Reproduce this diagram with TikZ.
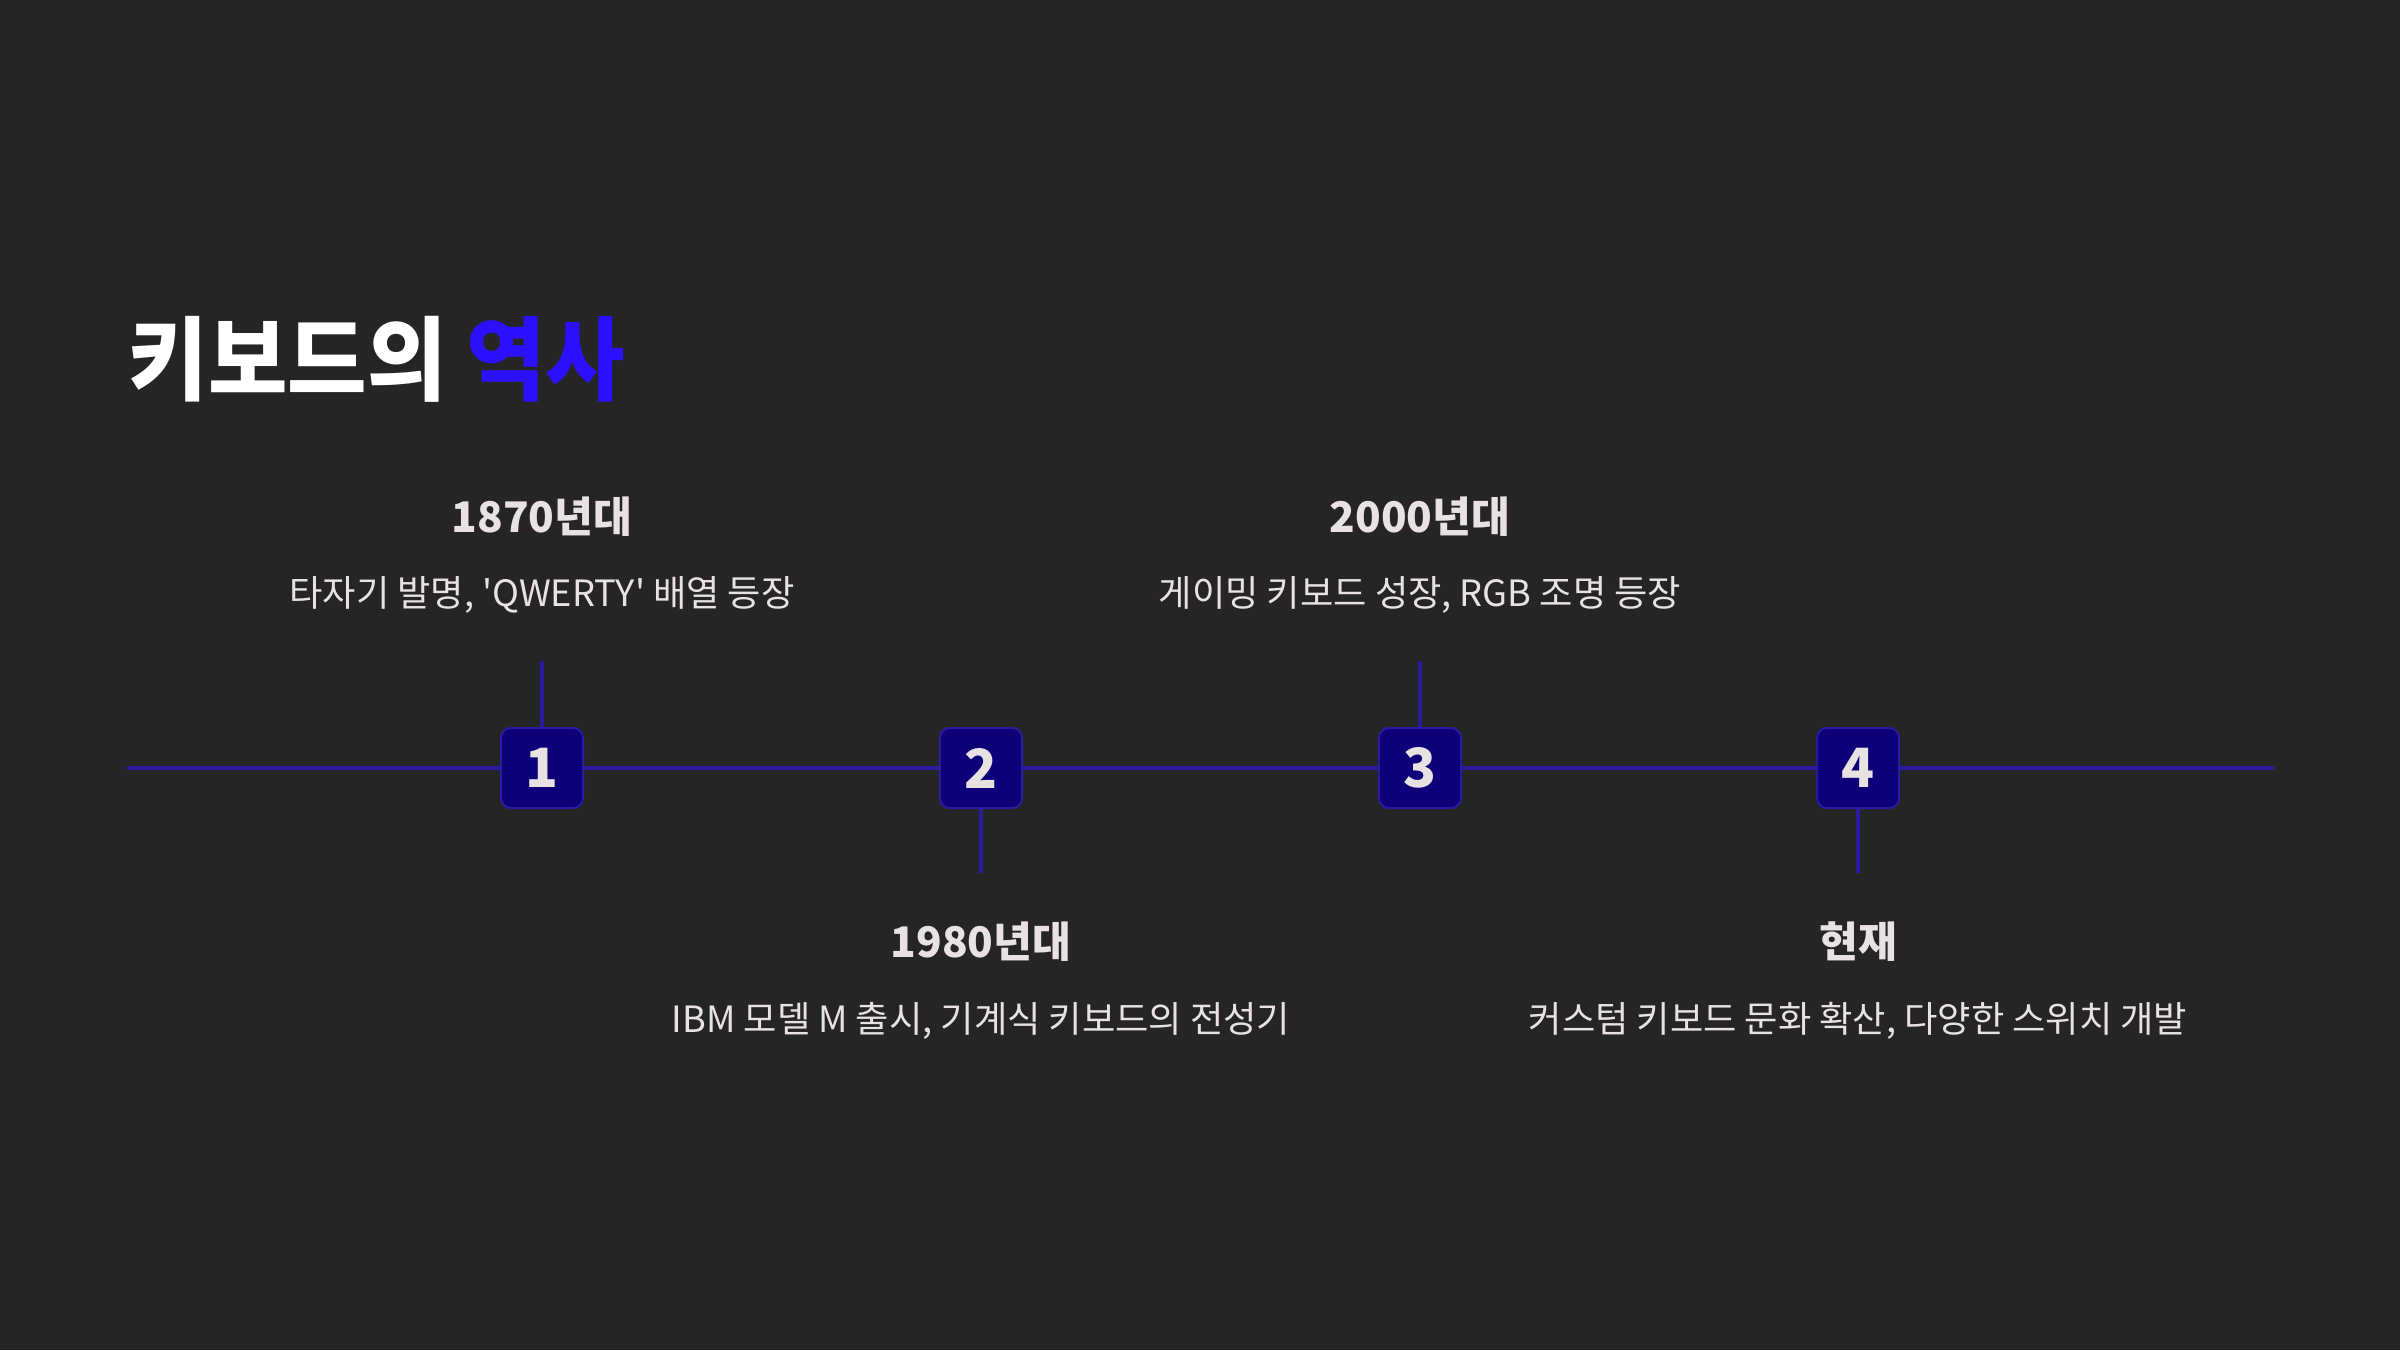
\documentclass[tikz,border=0pt]{standalone}
\usepackage{fontspec}
\setmainfont{Noto Sans CJK KR}[Ligatures=TeXOff]
\newfontfamily\titlefont{Noto Sans CJK KR}[FakeStretch=0.945]
\definecolor{bgcol}{HTML}{262526}
\definecolor{linecol}{HTML}{2C1AA0}
\definecolor{boxcol}{HTML}{0E0078}
\definecolor{accent}{HTML}{2A10FF}
\definecolor{txtcol}{HTML}{E8E2E2}
\tikzset{
  numbox/.style={draw=linecol, line width=0.02cm, fill=boxcol, rounded corners=0.1cm, minimum width=0.82cm, minimum height=0.8cm, inner sep=0pt, text=txtcol, font=\fontsize{15.4}{18}\selectfont\bfseries},
  yearlabel/.style={anchor=base, inner sep=0pt, text=txtcol, font=\fontsize{12}{15}\selectfont\bfseries},
  desclabel/.style={anchor=base, inner sep=0pt, text=txtcol, font=\fontsize{10.3}{13}\selectfont},
  tick/.style={draw=linecol, line width=0.04cm}
}
\begin{document}
\begin{tikzpicture}[x=0.01cm,y=-0.01cm]
\fill[bgcol] (0,0) rectangle (2400,1350);
% title
\node[anchor=base west, inner sep=0pt, text=white, font=\titlefont\fontsize{26}{31}\selectfont\bfseries] (title) at (128,393) {키보드의 \textcolor{accent}{역사}};
% axis
\coordinate (lstart) at (127,768);
\coordinate (lend) at (2274,768);
\draw[tick] (lstart) -- (lend);
\node[numbox] (n1) at (542,768) {1};
\node[numbox] (n2) at (981,768) {2};
\node[numbox] (n3) at (1420,768) {3};
\node[numbox] (n4) at (1858,768) {4};
\coordinate (t1) at (542,661);
\coordinate (t2) at (981,873);
\coordinate (t3) at (1420,661);
\coordinate (t4) at (1858,873);
\draw[tick] (n1.north) -- (t1);
\draw[tick] (n2.south) -- (t2);
\draw[tick] (n3.north) -- (t3);
\draw[tick] (n4.south) -- (t4);
% labels
\node[yearlabel] (y1) at (542,532) {1870년대};
\node[desclabel] (d1) at (542,606) {타자기 발명, 'QWERTY' 배열 등장};
\node[yearlabel] (y2) at (981,957) {1980년대};
\node[desclabel] (d2) at (981,1032) {IBM 모델 M 출시, 기계식 키보드의 전성기};
\node[yearlabel] (y3) at (1420,532) {2000년대};
\node[desclabel] (d3) at (1420,606) {게이밍 키보드 성장, RGB 조명 등장};
\node[yearlabel] (y4) at (1858,957) {현재};
\node[desclabel] (d4) at (1858,1032) {커스텀 키보드 문화 확산, 다양한 스위치 개발};
\end{tikzpicture}
\end{document}
